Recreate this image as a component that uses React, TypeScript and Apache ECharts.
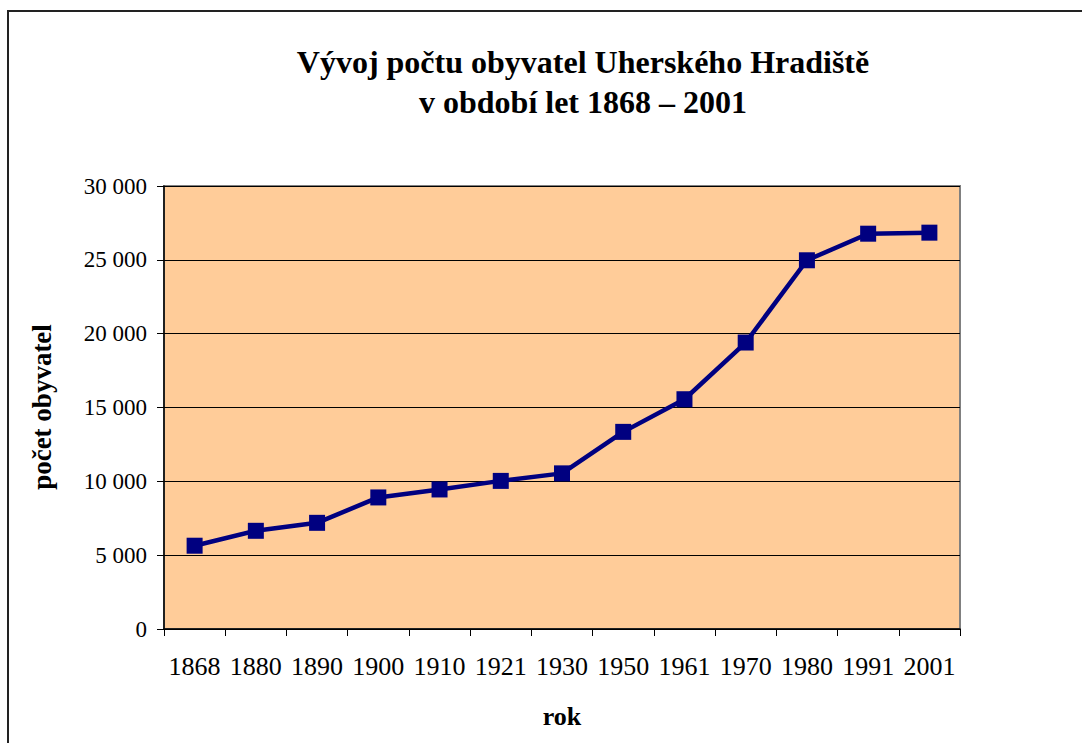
import React, { useEffect, useRef } from "react";
import * as echarts from "echarts";

const years: string[] = ["1868", "1880", "1890", "1900", "1910", "1921", "1930", "1950", "1961", "1970", "1980", "1991", "2001"];
const population: number[] = [5640, 6650, 7190, 8910, 9450, 10030, 10540, 13350, 15560, 19400, 24970, 26770, 26840];
const titleLines: string[] = ["Vývoj počtu obyvatel Uherského Hradiště", "v období let 1868 – 2001"];
const yAxisTitle = "počet obyvatel";
const xAxisTitle = "rok";

const FONT = "Liberation Serif, Times New Roman, serif";

export default function App() {
  const ref = useRef<HTMLDivElement>(null);
  useEffect(() => {
    if (!ref.current) return;
    const chart = echarts.init(ref.current, undefined, { renderer: "svg" });
    chart.setOption({
      animation: false,
      backgroundColor: "#ffffff",
      textStyle: { fontFamily: FONT },
      grid: {
        left: 164,
        right: 122,
        top: 186,
        bottom: 114,
        show: true,
        backgroundColor: "#FFCC99",
        borderColor: "#808080",
        borderWidth: 2,
      },
      xAxis: {
        type: "category",
        data: years,
        boundaryGap: true,
        axisLine: { show: true, lineStyle: { color: "#000000", width: 1.5 } },
        axisTick: { show: true, length: 7, alignWithLabel: false, lineStyle: { color: "#000000" } },
        axisLabel: { color: "#000000", fontSize: 26, fontFamily: FONT, margin: 24, interval: 0 },
        splitLine: { show: false },
      },
      yAxis: {
        type: "value",
        min: 0,
        max: 30000,
        interval: 5000,
        axisLine: { show: true, lineStyle: { color: "#000000", width: 1.5 } },
        axisTick: { show: true, length: 7, lineStyle: { color: "#000000" } },
        axisLabel: {
          color: "#000000",
          fontSize: 23,
          fontFamily: FONT,
          margin: 17,
          formatter: (v: number) => String(v).replace(/\B(?=(\d{3})+(?!\d))/g, " "),
        },
        splitLine: { show: true, lineStyle: { color: "#000000", width: 1 } },
      },
      series: [
        {
          type: "line",
          data: population,
          symbol: "rect",
          symbolSize: 16,
          lineStyle: { color: "#000080", width: 4.5 },
          itemStyle: { color: "#000080" },
        },
      ],
      graphic: [
        {
          type: "rect",
          shape: { x: 8, y: 11, width: 1090, height: 800 },
          style: { fill: "none", stroke: "#222222", lineWidth: 2 },
          z: 100,
          silent: true,
        },
        {
          type: "text",
          x: 583,
          y: 62,
          style: {
            text: titleLines[0],
            fontFamily: FONT,
            fontSize: 32,
            fontWeight: "bold",
            fill: "#000000",
            textAlign: "center",
            textVerticalAlign: "middle",
          },
        },
        {
          type: "text",
          x: 583,
          y: 102,
          style: {
            text: titleLines[1],
            fontFamily: FONT,
            fontSize: 32,
            fontWeight: "bold",
            fill: "#000000",
            textAlign: "center",
            textVerticalAlign: "middle",
          },
        },
        {
          type: "text",
          x: 42,
          y: 407,
          rotation: Math.PI / 2,
          style: {
            text: yAxisTitle,
            fontFamily: FONT,
            fontSize: 27,
            fontWeight: "bold",
            fill: "#000000",
            textAlign: "center",
            textVerticalAlign: "middle",
          },
        },
        {
          type: "text",
          x: 562,
          y: 716,
          style: {
            text: xAxisTitle,
            fontFamily: FONT,
            fontSize: 26,
            fontWeight: "bold",
            fill: "#000000",
            textAlign: "center",
            textVerticalAlign: "middle",
          },
        },
      ],
    });
    return () => chart.dispose();
  }, []);
  return <div ref={ref} style={{ width: 1082, height: 743, position: "absolute", left: 0, top: 0 }} />;
}
